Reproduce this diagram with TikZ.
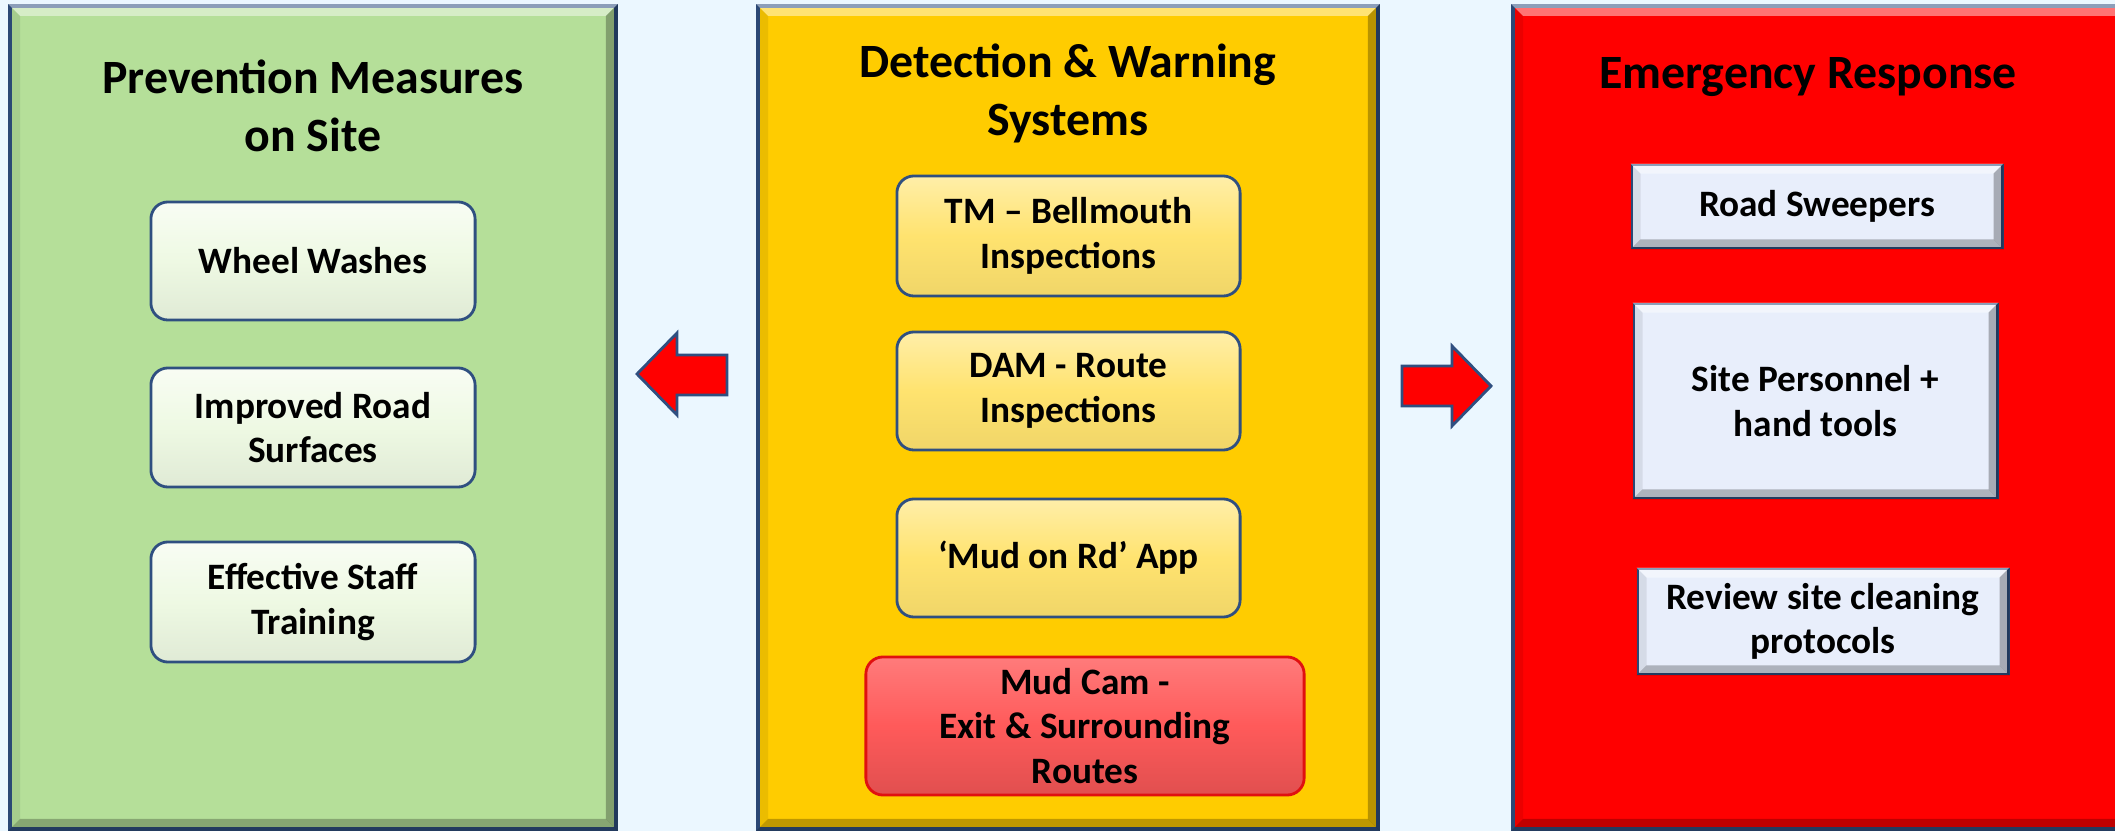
\documentclass[tikz,border=0pt]{standalone}
\usepackage{fontspec}
\setmainfont{Carlito}
\usepackage{xcolor}
\usetikzlibrary{calc}

\definecolor{bgblue}{HTML}{EBF7FF}
\definecolor{edgeblue}{HTML}{2F4F80}
\definecolor{pangreen}{HTML}{B5DF99}
\definecolor{panyellow}{HTML}{FFCC00}
\definecolor{panred}{HTML}{FF0000}
\definecolor{gfill}{HTML}{EEF9E3}
\definecolor{yfill}{HTML}{FFE36F}
\definecolor{mudfill}{HTML}{FF5A5A}
\definecolor{mudedge}{HTML}{E01010}
\definecolor{rfill}{HTML}{E8EEFB}

\tikzset{
  panel/.style={draw=edgeblue, line width=1pt, minimum height=8.23cm, inner sep=0pt},
  ttl/.style={font=\fontsize{13.6}{16.5}\selectfont\bfseries, align=center, inner sep=0pt},
  boxtext/.style={align=center, inner sep=0pt, font=\fontsize{10.6}{12.6}\selectfont\bfseries},
  roundbox/.style={boxtext, draw=edgeblue, line width=0.8pt, rounded corners=1.7mm},
  gbox/.style={roundbox, top color=gfill!40!white, bottom color=gfill!94!black, middle color=gfill},
  ybox/.style={roundbox, top color=yfill!60!white, bottom color=yfill!94!black, middle color=yfill},
  mudbox/.style={roundbox, draw=mudedge, top color=mudfill!80!white, bottom color=mudfill!88!black, middle color=mudfill},
  rbox/.style={boxtext, draw=edgeblue, line width=0.8pt, fill=rfill},
  blockarrow/.style={fill=panred, draw=edgeblue, line width=0.8pt, line join=miter}
}

% light top edge, dark right and bottom edges
\newcommand\panelbevel[2]{%
  \fill[white, opacity=.45] (#1.north west) -- (#1.north east) -- ($(#1.north east)+(-#2,#2)$) -- ($(#1.north west)+(#2,#2)$) -- cycle;
  \fill[black, opacity=.25] (#1.south west) -- (#1.south east) -- ($(#1.south east)+(-#2,-#2)$) -- ($(#1.south west)+(#2,-#2)$) -- cycle;
  \fill[black, opacity=.28] (#1.north east) -- (#1.south east) -- ($(#1.south east)+(-#2,-#2)$) -- ($(#1.north east)+(-#2,#2)$) -- cycle;
  \fill[black, opacity=.08] (#1.north west) -- (#1.south west) -- ($(#1.south west)+(#2,-#2)$) -- ($(#1.north west)+(#2,#2)$) -- cycle;
}

\begin{document}
\begin{tikzpicture}[x=0.01cm, y=-0.01cm]
  \useasboundingbox (0,0) rectangle (2115,831);
  \fill[bgblue] (0,0) rectangle (2115,831);

  % Panels
  \node[panel, fill=pangreen,  minimum width=6.06cm] (pgreen)  at (313,417.5)  {};
  \node[panel, fill=panyellow, minimum width=6.20cm] (pyellow) at (1068,417.5) {};
  \node[panel, fill=panred,    minimum width=6.20cm] (pred)    at (1823,417.5) {};
  \panelbevel{pgreen}{12}
  \panelbevel{pyellow}{12}
  \panelbevel{pred}{12}

  % Titles
  \node[ttl] (tgreen)  at (313,106)  {Prevention Measures\\on Site};
  \node[ttl] (tyellow) at (1068,93)  {Detection \& Warning\\Systems};
  \node[ttl] (tred)    at (1808,77)  {Emergency Response};

  % Prevention
  \node[gbox, minimum width=3.24cm, minimum height=1.18cm] (wheel) at (313,261)   {Wheel Washes};
  \node[gbox, minimum width=3.24cm, minimum height=1.19cm] (road)  at (313,427.5) {Improved Road\\Surfaces};
  \node[gbox, minimum width=3.24cm, minimum height=1.20cm] (staff) at (313,602)   {Effective Staff\\Training};

  % Detection
  \node[ybox, minimum width=3.43cm, minimum height=1.20cm] (tm)     at (1068.5,236) {TM – Bellmouth\\Inspections};
  \node[ybox, minimum width=3.43cm, minimum height=1.18cm] (dam)    at (1068.5,391) {DAM - Route\\Inspections};
  \node[ybox, minimum width=3.43cm, minimum height=1.18cm] (app)    at (1068.5,558) {‘Mud on Rd’ App};
  \node[mudbox, minimum width=4.38cm, minimum height=1.38cm] (mudcam) at (1085,726) {Mud Cam -\\Exit \& Surrounding\\Routes};

  % Response
  \node[rbox, minimum width=3.70cm, minimum height=0.83cm] (sweep)  at (1817,206.5)  {Road Sweepers};
  \node[rbox, minimum width=3.63cm, minimum height=1.94cm] (staffp) at (1815.5,401)  {Site Personnel +\\hand tools};
  \node[rbox, minimum width=3.70cm, minimum height=1.05cm] (review) at (1823,621.5)  {Review site cleaning\\protocols};
  \panelbevel{sweep}{10}
  \panelbevel{staffp}{10}
  \panelbevel{review}{10}

  % Arrows
  \draw[blockarrow] (727,355) -- (677,355) -- (677,333) -- (637,374) -- (677,415) -- (677,395) -- (727,395) -- cycle;
  \draw[blockarrow] (1402,366) -- (1452,366) -- (1452,346) -- (1491,386) -- (1452,426) -- (1452,406) -- (1402,406) -- cycle;
\end{tikzpicture}
\end{document}
